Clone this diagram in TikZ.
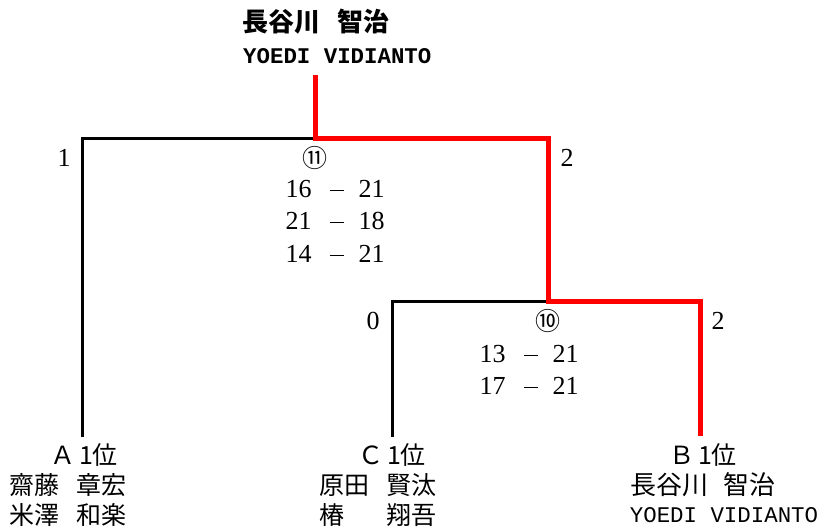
\documentclass[tikz,border=0pt]{standalone}
\usepackage{fontspec}
\setmainfont{Liberation Serif}
\newfontfamily\jp{Noto Sans CJK JP}
\newfontfamily\mono{Liberation Mono}
\newcommand{\dsh}{\hspace{18pt}\rule[6.5pt]{14pt}{1.3pt}\hspace{15pt}}
\begin{document}
\begin{tikzpicture}[x=1pt,y=-1pt,
  lbl/.style={inner sep=0pt,font=\fontsize{26}{30}\selectfont},
  jpl/.style={inner sep=0pt,font=\fontsize{25}{30}\selectfont\jp},
  mn/.style={inner sep=0pt,font=\fontsize{22.4}{28}\selectfont\mono},
  loser/.style={line width=3pt,black},
  winner/.style={line width=5pt,red}]
\useasboundingbox (0,0) rectangle (819,529);
% structure points
\coordinate (top) at (315,75);
\coordinate (m11) at (315,139);
\coordinate (l11) at (82,139);
\coordinate (r11) at (548,139);
\coordinate (m10) at (548,302);
\coordinate (l10) at (392,302);
\coordinate (r10) at (700,302);
\coordinate (A) at (82,437);
\coordinate (C) at (392,437);
\coordinate (B) at (700,436);
% lines
\draw[loser] (A) -- (l11) -- (m11);
\draw[loser] (C) -- (l10) -- (m10);
\draw[winner,line join=miter] (top) -- (m11) -- (r11) -- (m10) -- (r10) -- (B);
% champion
\node[jpl,font=\fontsize{26}{30}\selectfont\jp\bfseries,anchor=west] (champ) at (242,22) {長谷川\hspace{0.65em}智治};
\node[mn,font=\fontsize{22.4}{28}\selectfont\mono\bfseries,anchor=west] (champe) at (243,56) {YOEDI VIDIANTO};
% match 11
\node[lbl] (s1l) at (64,158) {1};
\node[lbl] (s1r) at (567,158) {2};
\node[jpl] (g11) at (315,158) {⑪};
\node[lbl] (g11a) at (335,189) {16\dsh21};
\node[lbl] (g11b) at (335,221) {21\dsh18};
\node[lbl] (g11c) at (335,254) {14\dsh21};
% match 10
\node[lbl] (s2l) at (373,321) {0};
\node[lbl] (s2r) at (718,321) {2};
\node[jpl] (g10) at (548,321) {⑩};
\node[lbl] (g10a) at (529,354) {13\dsh21};
\node[lbl] (g10b) at (529,386) {17\dsh21};
% players
\node[jpl] (pa) at (84,455) {Ａ\hspace{4pt}1位};
\node[jpl,anchor=west] (pa1) at (9,485) {齋藤\hspace{0.7em}章宏};
\node[jpl,anchor=west] (pa2) at (9,515) {米澤\hspace{0.7em}和楽};
\node[jpl] (pc) at (392,455) {Ｃ\hspace{4pt}1位};
\node[jpl,anchor=west] (pc1) at (319,485) {原田\hspace{0.7em}賢汰};
\node[jpl,anchor=west] (pc2) at (319,515) {椿\hspace{1.7em}翔吾};
\node[jpl] (pb) at (703,455) {Ｂ\hspace{4pt}1位};
\node[jpl,font=\fontsize{26}{30}\selectfont\jp,anchor=west] (pb1) at (630,485) {長谷川\hspace{0.6em}智治};
\node[mn] (pb2) at (724,515) {YOEDI VIDIANTO};
\end{tikzpicture}
\end{document}
